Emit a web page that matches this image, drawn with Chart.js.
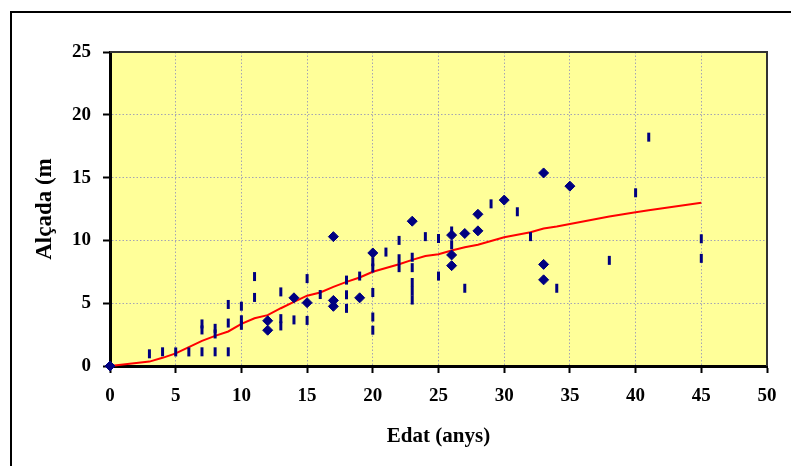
<!DOCTYPE html>
<html>
<head>
<meta charset="utf-8">
<script src="https://cdn.jsdelivr.net/npm/chart.js@4"></script>
<style>
    html, body { margin: 0; padding: 0; background: #ffffff; }
    #wrap { width: 791px; height: 466px; }
</style>
</head>
<body>
<div id="wrap"><canvas id="alcadaChart" width="791" height="466"></canvas></div>
<script>
// observed trees drawn with diamond markers
const diamondAge = [0, 12, 12, 14, 15, 17, 17, 17, 19, 20, 23, 26, 26, 26, 27, 28, 28, 30, 33, 33, 33, 35];
const diamondHeight = [0, 3.6, 2.85, 5.43, 5.04, 10.3, 5.22, 4.75, 5.43, 9.0, 11.53, 10.42, 8.84, 7.99, 10.55, 12.08, 10.76, 13.21, 15.37, 8.09, 6.86, 14.32];

// observed trees drawn as short vertical dashes
const dashAge = [3, 4, 5, 6, 7, 7, 7, 8, 8, 8, 9, 9, 9, 10, 10, 10, 11, 11, 13, 13, 13, 14, 15, 15, 16,
    18, 18, 18, 19, 20, 20, 20, 20, 20, 21, 22, 22, 22, 23, 23, 23, 23, 23, 24, 25, 25, 26, 26,
    27, 29, 31, 32, 34, 38, 40, 41, 45, 45];
const dashHeight = [0.97, 1.13, 1.12, 1.12, 1.13, 3.35, 2.87, 1.13, 3.0, 2.55, 1.13, 3.42, 4.9, 3.68, 3.24, 4.76, 7.12, 5.46, 5.9, 3.77, 3.19, 3.67, 6.96, 3.63, 5.69,
    6.84, 5.67, 4.59, 7.16, 8.3, 7.8, 5.85, 3.9, 2.85, 9.07, 10.0, 8.54, 7.83, 8.66, 7.83, 6.65, 5.95, 5.25, 10.3, 10.15, 7.16, 10.75, 9.65,
    6.19, 12.91, 12.28, 10.3, 6.19, 8.41, 13.79, 18.22, 10.13, 8.57];

// fitted curve (red)
const modelAge = [0, 3, 4, 5, 6, 7, 8, 9, 10, 11, 12, 13, 14, 15, 16, 17, 18, 19, 20, 21, 22, 23, 24, 25,
    26, 27, 28, 29, 30, 31, 32, 33, 34, 35, 38, 40, 41, 45];
const modelHeight = [0, 0.35, 0.65, 1.0, 1.5, 2.0, 2.4, 2.75, 3.35, 3.8, 4.05, 4.6, 5.1, 5.6, 5.85, 6.3, 6.7, 7.05, 7.5, 7.8, 8.1, 8.45, 8.75, 8.9,
    9.2, 9.45, 9.65, 9.95, 10.25, 10.45, 10.65, 10.95, 11.1, 11.3, 11.9, 12.25, 12.4, 13.0];

const xTicks = [0, 5, 10, 15, 20, 25, 30, 35, 40, 45, 50];
const yTicks = [0, 5, 10, 15, 20, 25];

const toPoints = (xs, ys) => xs.map((x, i) => ({ x: x, y: ys[i] }));

const navy = '#000080';
const serifBold = (size) => ({ family: "'Liberation Serif', 'Times New Roman', serif", size: size, weight: 'bold' });

const framePlugin = {
    id: 'frame',
    beforeDraw(chart) {
        const { ctx, chartArea: a } = chart;
        ctx.save();
        ctx.fillStyle = '#ffffff';
        ctx.fillRect(0, 0, chart.width, chart.height);
        ctx.strokeStyle = '#000000';
        ctx.lineWidth = 2;
        ctx.strokeRect(11, 12, 900, 600);
        ctx.fillStyle = '#ffff99';
        ctx.fillRect(a.left, a.top, a.right - a.left, a.bottom - a.top);
        ctx.restore();
    },
    beforeDatasetsDraw(chart) {
        const { ctx, chartArea: a } = chart;
        ctx.save();
        ctx.strokeStyle = '#333333';
        ctx.lineWidth = 2;
        ctx.beginPath();
        ctx.moveTo(a.left, a.top);
        ctx.lineTo(a.right, a.top);
        ctx.lineTo(a.right, a.bottom);
        ctx.stroke();
        ctx.restore();
    }
};

new Chart(document.getElementById('alcadaChart').getContext('2d'), {
    type: 'scatter',
    data: {
        datasets: [
            {
                label: 'Model',
                type: 'line',
                data: toPoints(modelAge, modelHeight),
                borderColor: '#ff0000',
                borderWidth: 2,
                pointRadius: 0,
                tension: 0,
                fill: false,
                clip: false,
                order: 3
            },
            {
                label: 'Observat',
                data: toPoints(dashAge, dashHeight),
                pointStyle: 'line',
                rotation: 90,
                pointRadius: 4.5,
                borderWidth: 3,
                borderColor: navy,
                backgroundColor: navy,
                clip: false,
                order: 2
            },
            {
                label: 'Observat (rombe)',
                data: toPoints(diamondAge, diamondHeight),
                pointStyle: 'rectRot',
                pointRadius: 5,
                borderWidth: 1,
                borderColor: navy,
                backgroundColor: navy,
                clip: false,
                order: 1
            }
        ]
    },
    options: {
        responsive: false,
        animation: false,
        layout: { padding: { left: 0, right: 24, top: 52, bottom: 0 } },
        scales: {
            x: {
                type: 'linear',
                min: 0,
                max: 50,
                afterBuildTicks: (axis) => { axis.ticks = xTicks.map(v => ({ value: v })); },
                afterFit: (axis) => { axis.height = 100; },
                ticks: { color: '#000000', font: serifBold(19), padding: 12, maxRotation: 0 },
                grid: { color: '#a4a4b4', lineWidth: 1, tickLength: 7, tickColor: '#000000', tickWidth: 2 },
                border: { color: '#000000', width: 3, dash: [1.5, 2] },
                title: { display: true, text: 'Edat (anys)', color: '#000000', font: serifBold(21), padding: { top: 0, bottom: 17 } }
            },
            y: {
                type: 'linear',
                min: 0,
                max: 25,
                afterBuildTicks: (axis) => { axis.ticks = yTicks.map(v => ({ value: v })); },
                afterFit: (axis) => { axis.width = 110; },
                ticks: { color: '#000000', font: serifBold(19), padding: 12 },
                grid: { color: '#a4a4b4', lineWidth: 1, tickLength: 7, tickColor: '#000000', tickWidth: 2 },
                border: { color: '#000000', width: 3, dash: [1.5, 2] },
                title: { display: true, text: 'Alçada (m', color: '#000000', font: serifBold(23), padding: { top: 31, bottom: 0 } }
            }
        },
        plugins: {
            legend: { display: false },
            tooltip: { enabled: false }
        }
    },
    plugins: [framePlugin]
});
</script>
</body>
</html>
